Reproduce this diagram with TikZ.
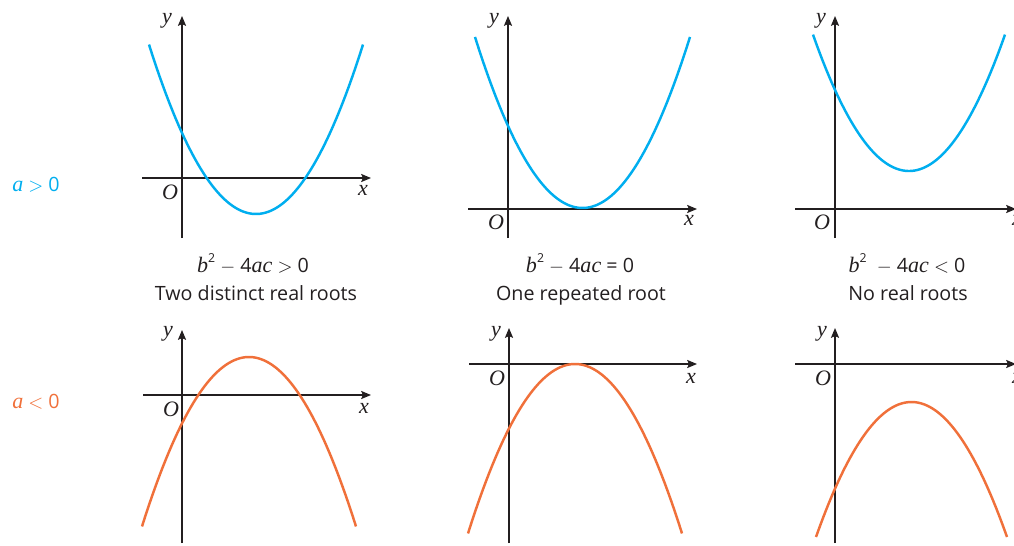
\documentclass[tikz,border=0pt]{standalone}
\usepackage{fontspec}
\setmainfont{Open Sans}
\newfontfamily\varfont{Liberation Serif}[Scale=1.12]
\newcommand{\mvar}[1]{{\varfont\itshape #1}}
\newcommand{\sqr}{\raisebox{0.9ex}{\fontsize{7}{8}\selectfont 2}}
\usepackage{tikz}
\usetikzlibrary{arrows.meta}
\definecolor{posblue}{RGB}{0,174,239}
\definecolor{negorange}{RGB}{240,112,58}
\definecolor{axisgray}{RGB}{35,31,32}

\begin{document}
\begin{tikzpicture}[
    x=0.02cm, y=-0.02cm,
    >={Stealth[length=5.6pt,width=4.6pt,inset=1pt]},
    font=\fontsize{11.2}{13}\selectfont,
    axisline/.style={->, line width=0.8pt, draw=axisgray},
    upcurve/.style={line width=1.4pt, draw=posblue, samples=80},
    downcurve/.style={line width=1.4pt, draw=negorange, samples=80},
    lab/.style={inner sep=0pt, text=axisgray},
    cond/.style={inner sep=0pt, text=axisgray, anchor=base}
]
\useasboundingbox (0,0) rectangle (1014,545);

% row labels
\node[inner sep=0pt, text=posblue] (apos) at (36,185) {\mvar{a} $>$ 0};
\node[inner sep=0pt, text=negorange] (aneg) at (36,402) {\mvar{a} $<$ 0};

% top row: a > 0
\coordinate (ya1) at (182,238); \coordinate (yb1) at (182,16);
\coordinate (xa1) at (142,178); \coordinate (xb1) at (371,178);
\draw[axisline] (ya1) -- (yb1);
\draw[axisline] (xa1) -- (xb1);
\node[lab] (ylab1) at (167,21) {\mvar{y}};
\node[lab] (olab1) at (170,192) {\mvar{O}};
\node[lab] (xlab1) at (363,190) {\mvar{x}};
\draw[upcurve] plot[domain=149:363] (\x,{214-0.0148*(\x-256)^2});

\coordinate (ya2) at (508,238); \coordinate (yb2) at (508,16);
\coordinate (xa2) at (468,209); \coordinate (xb2) at (697,209);
\draw[axisline] (ya2) -- (yb2);
\draw[axisline] (xa2) -- (xb2);
\node[lab] (ylab2) at (494,21) {\mvar{y}};
\node[lab] (olab2) at (496,222) {\mvar{O}};
\node[lab] (xlab2) at (689,220) {\mvar{x}};
\draw[upcurve] plot[domain=475:690] (\x,{208-0.0148*(\x-582.5)^2});

\coordinate (ya3) at (835,238); \coordinate (yb3) at (835,16);
\coordinate (xa3) at (795,209); \coordinate (xb3) at (1016,209);
\draw[axisline] (ya3) -- (yb3);
\draw[axisline] (xa3) -- (xb3);
\node[lab] (ylab3) at (821,21) {\mvar{y}};
\node[lab] (olab3) at (822,222) {\mvar{O}};
\node[lab] (xlab3) at (1017,220) {\mvar{x}};
\draw[upcurve] plot[domain=813:1005] (\x,{171-0.0148*(\x-909)^2});

% captions
\node[cond] (disc1) at (253,272) {\mvar{b}\sqr{} $-$ 4\mvar{ac} $>$ 0};
\node[cond] (roots1) at (256,300) {Two distinct real roots};
\node[cond] (disc2) at (580,272) {\mvar{b}\sqr{} $-$ 4\mvar{ac} = 0};
\node[cond] (roots2) at (581,300) {One repeated root};
\node[cond] (disc3) at (907,272) {\mvar{b}\sqr\ \ $-$ 4\mvar{ac} $<$ 0};
\node[cond] (roots3) at (908,300) {No real roots};

% bottom row: a < 0
\coordinate (ya4) at (182,543); \coordinate (yb4) at (182,330);
\coordinate (xa4) at (143,395); \coordinate (xb4) at (371,395);
\draw[axisline] (ya4) -- (yb4);
\draw[axisline] (xa4) -- (xb4);
\node[lab] (ylab4) at (168,334) {\mvar{y}};
\node[lab] (olab4) at (171,409) {\mvar{O}};
\node[lab] (xlab4) at (364,408) {\mvar{x}};
\draw[downcurve] plot[domain=142:356] (\x,{357+0.0148*(\x-249)^2});

\coordinate (ya5) at (509,543); \coordinate (yb5) at (509,328);
\coordinate (xa5) at (469,364); \coordinate (xb5) at (697,364);
\draw[axisline] (ya5) -- (yb5);
\draw[axisline] (xa5) -- (xb5);
\node[lab] (ylab5) at (496,334) {\mvar{y}};
\node[lab] (olab5) at (497,378) {\mvar{O}};
\node[lab] (xlab5) at (691,378) {\mvar{x}};
\draw[downcurve] plot[domain=468:682] (\x,{364+0.0148*(\x-575)^2});

\coordinate (ya6) at (835,543); \coordinate (yb6) at (835,328);
\coordinate (xa6) at (795,364); \coordinate (xb6) at (1016,364);
\draw[axisline] (ya6) -- (yb6);
\draw[axisline] (xa6) -- (xb6);
\node[lab] (ylab6) at (822,334) {\mvar{y}};
\node[lab] (olab6) at (823,378) {\mvar{O}};
\node[lab] (xlab6) at (1017,378) {\mvar{x}};
\draw[downcurve] plot[domain=816:1007] (\x,{402+0.0148*(\x-911.5)^2});
\end{tikzpicture}
\end{document}
